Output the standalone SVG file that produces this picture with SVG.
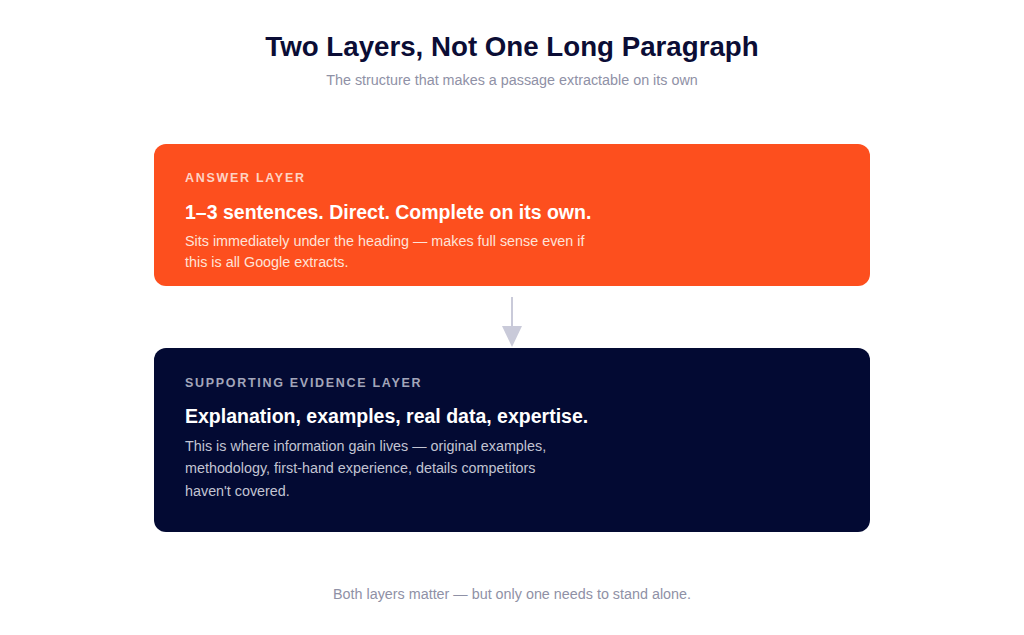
<svg xmlns="http://www.w3.org/2000/svg" width="1024" height="635" viewBox="0 0 1024 635">
<style>
.t{font-family:"Liberation Sans",Arial,sans-serif}
.title{font-size:27.7px;font-weight:bold;fill:#0b0d35}
.sub{font-size:14.35px;fill:#8f91a6}
.lbl{font-size:12.5px;font-weight:bold;letter-spacing:1.7px}
.hd{font-size:19.5px;font-weight:bold;fill:#ffffff}
.bd{font-size:14.35px}
</style>
<rect width="1024" height="635" fill="#ffffff"/>
<g id="header">
<text class="t title" x="512" y="56" text-anchor="middle">Two Layers, Not One Long Paragraph</text>
<text class="t sub" x="512" y="85" text-anchor="middle">The structure that makes a passage extractable on its own</text>
</g>
<g id="answer-layer">
<rect x="154" y="144" width="716" height="142" rx="12" fill="#fd4f1e"/>
<text class="t lbl" x="185" y="182" fill="#fdd3c4">ANSWER LAYER</text>
<text class="t hd" x="185" y="219">1–3 sentences. Direct. Complete on its own.</text>
<text class="t bd" x="185" y="246" fill="#fee3d8">Sits immediately under the heading — makes full sense even if</text>
<text class="t bd" x="185" y="267" fill="#fee3d8">this is all Google extracts.</text>
</g>
<g id="connectors">
<line x1="512" y1="297" x2="512" y2="340" stroke="#c9cad9" stroke-width="2"/>
<path d="M502,326 L522,326 L512,347 Z" fill="#c9cad9"/>
</g>
<g id="evidence-layer">
<rect x="154" y="348" width="716" height="184" rx="12" fill="#030a33"/>
<text class="t lbl" x="185" y="387" fill="#a3a6ba">SUPPORTING EVIDENCE LAYER</text>
<text class="t hd" x="185" y="423">Explanation, examples, real data, expertise.</text>
<text class="t bd" x="185" y="451" fill="#c2c4d2">This is where information gain lives — original examples,</text>
<text class="t bd" x="185" y="473" fill="#c2c4d2">methodology, first-hand experience, details competitors</text>
<text class="t bd" x="185" y="496" fill="#c2c4d2">haven't covered.</text>
</g>
<g id="footer">
<text class="t sub" x="512" y="599" text-anchor="middle" fill="#9a9cae">Both layers matter — but only one needs to stand alone.</text>
</g>
</svg>
